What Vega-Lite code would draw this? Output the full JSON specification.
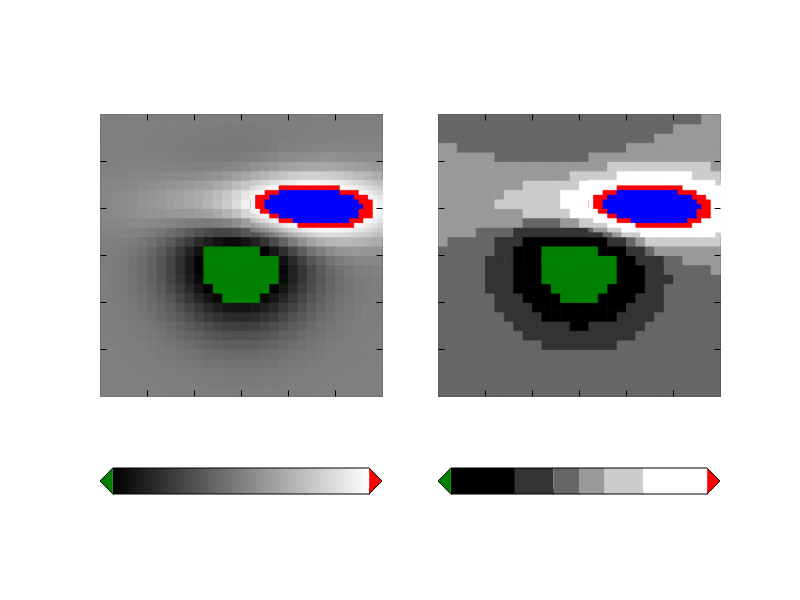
{"$schema":"https://vega.github.io/schema/vega-lite/v6.json","background":"#ffffff","padding":{"left":98,"top":113,"right":0,"bottom":0},"autosize":{"type":"pad"},"spacing":52,
"config":{"view":{"stroke":null},"axis":{"labels":false,"domain":false,"grid":false,"ticks":true,"tickColor":"#000000","tickWidth":1}},
"resolve":{"scale":{"color":"independent","stroke":"independent"}},
"datasets":{
"grid":[
{"x":0,"y":0,"z":-1},{"x":1,"y":0,"z":-1},{"x":2,"y":0,"z":-1},{"x":3,"y":0,"z":-2},{"x":4,"y":0,"z":-3},{"x":5,"y":0,"z":-4},{"x":6,"y":0,"z":-6},{"x":7,"y":0,"z":-8},{"x":8,"y":0,"z":-10},{"x":9,"y":0,"z":-13},{"x":10,"y":0,"z":-16},{"x":11,"y":0,"z":-19},{"x":12,"y":0,"z":-21},{"x":13,"y":0,"z":-23},{"x":14,"y":0,"z":-24},{"x":15,"y":0,"z":-24},{"x":16,"y":0,"z":-23},{"x":17,"y":0,"z":-21},{"x":18,"y":0,"z":-19},{"x":19,"y":0,"z":-16},{"x":20,"y":0,"z":-13},{"x":21,"y":0,"z":-10},{"x":22,"y":0,"z":-8},{"x":23,"y":0,"z":-6},{"x":24,"y":0,"z":-4},{"x":25,"y":0,"z":-3},{"x":26,"y":0,"z":-2},{"x":27,"y":0,"z":-1},{"x":28,"y":0,"z":-1},{"x":29,"y":0,"z":-1},
{"x":0,"y":1,"z":-1},{"x":1,"y":1,"z":-1},{"x":2,"y":1,"z":-2},{"x":3,"y":1,"z":-3},{"x":4,"y":1,"z":-5},{"x":5,"y":1,"z":-7},{"x":6,"y":1,"z":-10},{"x":7,"y":1,"z":-14},{"x":8,"y":1,"z":-18},{"x":9,"y":1,"z":-23},{"x":10,"y":1,"z":-28},{"x":11,"y":1,"z":-33},{"x":12,"y":1,"z":-37},{"x":13,"y":1,"z":-40},{"x":14,"y":1,"z":-41},{"x":15,"y":1,"z":-41},{"x":16,"y":1,"z":-40},{"x":17,"y":1,"z":-37},{"x":18,"y":1,"z":-33},{"x":19,"y":1,"z":-28},{"x":20,"y":1,"z":-23},{"x":21,"y":1,"z":-18},{"x":22,"y":1,"z":-14},{"x":23,"y":1,"z":-10},{"x":24,"y":1,"z":-7},{"x":25,"y":1,"z":-5},{"x":26,"y":1,"z":-3},{"x":27,"y":1,"z":-2},{"x":28,"y":1,"z":-1},{"x":29,"y":1,"z":-1},
{"x":0,"y":2,"z":-1},{"x":1,"y":2,"z":-2},{"x":2,"y":2,"z":-3},{"x":3,"y":2,"z":-5},{"x":4,"y":2,"z":-8},{"x":5,"y":2,"z":-11},{"x":6,"y":2,"z":-16},{"x":7,"y":2,"z":-23},{"x":8,"y":2,"z":-30},{"x":9,"y":2,"z":-38},{"x":10,"y":2,"z":-46},{"x":11,"y":2,"z":-54},{"x":12,"y":2,"z":-61},{"x":13,"y":2,"z":-66},{"x":14,"y":2,"z":-69},{"x":15,"y":2,"z":-69},{"x":16,"y":2,"z":-66},{"x":17,"y":2,"z":-61},{"x":18,"y":2,"z":-54},{"x":19,"y":2,"z":-46},{"x":20,"y":2,"z":-38},{"x":21,"y":2,"z":-30},{"x":22,"y":2,"z":-23},{"x":23,"y":2,"z":-16},{"x":24,"y":2,"z":-11},{"x":25,"y":2,"z":-8},{"x":26,"y":2,"z":-5},{"x":27,"y":2,"z":-3},{"x":28,"y":2,"z":-2},{"x":29,"y":2,"z":-1},
{"x":0,"y":3,"z":-2},{"x":1,"y":3,"z":-3},{"x":2,"y":3,"z":-5},{"x":3,"y":3,"z":-8},{"x":4,"y":3,"z":-13},{"x":5,"y":3,"z":-19},{"x":6,"y":3,"z":-27},{"x":7,"y":3,"z":-37},{"x":8,"y":3,"z":-49},{"x":9,"y":3,"z":-62},{"x":10,"y":3,"z":-76},{"x":11,"y":3,"z":-89},{"x":12,"y":3,"z":-100},{"x":13,"y":3,"z":-109},{"x":14,"y":3,"z":-113},{"x":15,"y":3,"z":-113},{"x":16,"y":3,"z":-109},{"x":17,"y":3,"z":-100},{"x":18,"y":3,"z":-89},{"x":19,"y":3,"z":-76},{"x":20,"y":3,"z":-62},{"x":21,"y":3,"z":-49},{"x":22,"y":3,"z":-37},{"x":23,"y":3,"z":-27},{"x":24,"y":3,"z":-19},{"x":25,"y":3,"z":-13},{"x":26,"y":3,"z":-8},{"x":27,"y":3,"z":-5},{"x":28,"y":3,"z":-3},{"x":29,"y":3,"z":-2},
{"x":0,"y":4,"z":-3},{"x":1,"y":4,"z":-5},{"x":2,"y":4,"z":-8},{"x":3,"y":4,"z":-13},{"x":4,"y":4,"z":-19},{"x":5,"y":4,"z":-29},{"x":6,"y":4,"z":-41},{"x":7,"y":4,"z":-57},{"x":8,"y":4,"z":-75},{"x":9,"y":4,"z":-96},{"x":10,"y":4,"z":-117},{"x":11,"y":4,"z":-137},{"x":12,"y":4,"z":-155},{"x":13,"y":4,"z":-168},{"x":14,"y":4,"z":-174},{"x":15,"y":4,"z":-174},{"x":16,"y":4,"z":-168},{"x":17,"y":4,"z":-155},{"x":18,"y":4,"z":-137},{"x":19,"y":4,"z":-117},{"x":20,"y":4,"z":-96},{"x":21,"y":4,"z":-75},{"x":22,"y":4,"z":-57},{"x":23,"y":4,"z":-41},{"x":24,"y":4,"z":-29},{"x":25,"y":4,"z":-19},{"x":26,"y":4,"z":-13},{"x":27,"y":4,"z":-8},{"x":28,"y":4,"z":-5},{"x":29,"y":4,"z":-3},
{"x":0,"y":5,"z":-4},{"x":1,"y":5,"z":-7},{"x":2,"y":5,"z":-11},{"x":3,"y":5,"z":-19},{"x":4,"y":5,"z":-29},{"x":5,"y":5,"z":-43},{"x":6,"y":5,"z":-62},{"x":7,"y":5,"z":-85},{"x":8,"y":5,"z":-113},{"x":9,"y":5,"z":-143},{"x":10,"y":5,"z":-175},{"x":11,"y":5,"z":-206},{"x":12,"y":5,"z":-232},{"x":13,"y":5,"z":-251},{"x":14,"y":5,"z":-261},{"x":15,"y":5,"z":-261},{"x":16,"y":5,"z":-251},{"x":17,"y":5,"z":-232},{"x":18,"y":5,"z":-206},{"x":19,"y":5,"z":-175},{"x":20,"y":5,"z":-143},{"x":21,"y":5,"z":-113},{"x":22,"y":5,"z":-85},{"x":23,"y":5,"z":-62},{"x":24,"y":5,"z":-43},{"x":25,"y":5,"z":-29},{"x":26,"y":5,"z":-19},{"x":27,"y":5,"z":-11},{"x":28,"y":5,"z":-7},{"x":29,"y":5,"z":-4},
{"x":0,"y":6,"z":-6},{"x":1,"y":6,"z":-10},{"x":2,"y":6,"z":-16},{"x":3,"y":6,"z":-27},{"x":4,"y":6,"z":-41},{"x":5,"y":6,"z":-62},{"x":6,"y":6,"z":-88},{"x":7,"y":6,"z":-122},{"x":8,"y":6,"z":-161},{"x":9,"y":6,"z":-205},{"x":10,"y":6,"z":-250},{"x":11,"y":6,"z":-293},{"x":12,"y":6,"z":-331},{"x":13,"y":6,"z":-358},{"x":14,"y":6,"z":-373},{"x":15,"y":6,"z":-373},{"x":16,"y":6,"z":-358},{"x":17,"y":6,"z":-331},{"x":18,"y":6,"z":-293},{"x":19,"y":6,"z":-250},{"x":20,"y":6,"z":-205},{"x":21,"y":6,"z":-161},{"x":22,"y":6,"z":-122},{"x":23,"y":6,"z":-88},{"x":24,"y":6,"z":-62},{"x":25,"y":6,"z":-41},{"x":26,"y":6,"z":-27},{"x":27,"y":6,"z":-16},{"x":28,"y":6,"z":-10},{"x":29,"y":6,"z":-6},
{"x":0,"y":7,"z":-8},{"x":1,"y":7,"z":-14},{"x":2,"y":7,"z":-23},{"x":3,"y":7,"z":-37},{"x":4,"y":7,"z":-57},{"x":5,"y":7,"z":-85},{"x":6,"y":7,"z":-122},{"x":7,"y":7,"z":-168},{"x":8,"y":7,"z":-222},{"x":9,"y":7,"z":-283},{"x":10,"y":7,"z":-345},{"x":11,"y":7,"z":-405},{"x":12,"y":7,"z":-456},{"x":13,"y":7,"z":-495},{"x":14,"y":7,"z":-515},{"x":15,"y":7,"z":-515},{"x":16,"y":7,"z":-495},{"x":17,"y":7,"z":-456},{"x":18,"y":7,"z":-405},{"x":19,"y":7,"z":-345},{"x":20,"y":7,"z":-283},{"x":21,"y":7,"z":-222},{"x":22,"y":7,"z":-168},{"x":23,"y":7,"z":-122},{"x":24,"y":7,"z":-85},{"x":25,"y":7,"z":-57},{"x":26,"y":7,"z":-37},{"x":27,"y":7,"z":-23},{"x":28,"y":7,"z":-14},{"x":29,"y":7,"z":-8},
{"x":0,"y":8,"z":-10},{"x":1,"y":8,"z":-18},{"x":2,"y":8,"z":-30},{"x":3,"y":8,"z":-49},{"x":4,"y":8,"z":-75},{"x":5,"y":8,"z":-113},{"x":6,"y":8,"z":-161},{"x":7,"y":8,"z":-222},{"x":8,"y":8,"z":-294},{"x":9,"y":8,"z":-373},{"x":10,"y":8,"z":-456},{"x":11,"y":8,"z":-535},{"x":12,"y":8,"z":-603},{"x":13,"y":8,"z":-654},{"x":14,"y":8,"z":-680},{"x":15,"y":8,"z":-680},{"x":16,"y":8,"z":-654},{"x":17,"y":8,"z":-603},{"x":18,"y":8,"z":-535},{"x":19,"y":8,"z":-456},{"x":20,"y":8,"z":-373},{"x":21,"y":8,"z":-294},{"x":22,"y":8,"z":-222},{"x":23,"y":8,"z":-161},{"x":24,"y":8,"z":-113},{"x":25,"y":8,"z":-75},{"x":26,"y":8,"z":-49},{"x":27,"y":8,"z":-30},{"x":28,"y":8,"z":-18},{"x":29,"y":8,"z":-10},
{"x":0,"y":9,"z":-13},{"x":1,"y":9,"z":-23},{"x":2,"y":9,"z":-38},{"x":3,"y":9,"z":-62},{"x":4,"y":9,"z":-96},{"x":5,"y":9,"z":-143},{"x":6,"y":9,"z":-205},{"x":7,"y":9,"z":-282},{"x":8,"y":9,"z":-373},{"x":9,"y":9,"z":-475},{"x":10,"y":9,"z":-580},{"x":11,"y":9,"z":-680},{"x":12,"y":9,"z":-767},{"x":13,"y":9,"z":-831},{"x":14,"y":9,"z":-865},{"x":15,"y":9,"z":-865},{"x":16,"y":9,"z":-831},{"x":17,"y":9,"z":-767},{"x":18,"y":9,"z":-680},{"x":19,"y":9,"z":-580},{"x":20,"y":9,"z":-474},{"x":21,"y":9,"z":-373},{"x":22,"y":9,"z":-282},{"x":23,"y":9,"z":-204},{"x":24,"y":9,"z":-143},{"x":25,"y":9,"z":-96},{"x":26,"y":9,"z":-62},{"x":27,"y":9,"z":-38},{"x":28,"y":9,"z":-23},{"x":29,"y":9,"z":-13},
{"x":0,"y":10,"z":-16},{"x":1,"y":10,"z":-28},{"x":2,"y":10,"z":-46},{"x":3,"y":10,"z":-76},{"x":4,"y":10,"z":-117},{"x":5,"y":10,"z":-175},{"x":6,"y":10,"z":-250},{"x":7,"y":10,"z":-345},{"x":8,"y":10,"z":-456},{"x":9,"y":10,"z":-580},{"x":10,"y":10,"z":-708},{"x":11,"y":10,"z":-831},{"x":12,"y":10,"z":-936},{"x":13,"y":10,"z":-1014},{"x":14,"y":10,"z":-1056},{"x":15,"y":10,"z":-1055},{"x":16,"y":10,"z":-1014},{"x":17,"y":10,"z":-936},{"x":18,"y":10,"z":-830},{"x":19,"y":10,"z":-707},{"x":20,"y":10,"z":-579},{"x":21,"y":10,"z":-455},{"x":22,"y":10,"z":-344},{"x":23,"y":10,"z":-249},{"x":24,"y":10,"z":-174},{"x":25,"y":10,"z":-116},{"x":26,"y":10,"z":-75},{"x":27,"y":10,"z":-45},{"x":28,"y":10,"z":-27},{"x":29,"y":10,"z":-15},
{"x":0,"y":11,"z":-19},{"x":1,"y":11,"z":-32},{"x":2,"y":11,"z":-54},{"x":3,"y":11,"z":-88},{"x":4,"y":11,"z":-137},{"x":5,"y":11,"z":-204},{"x":6,"y":11,"z":-292},{"x":7,"y":11,"z":-403},{"x":8,"y":11,"z":-533},{"x":9,"y":11,"z":-678},{"x":10,"y":11,"z":-829},{"x":11,"y":11,"z":-973},{"x":12,"y":11,"z":-1096},{"x":13,"y":11,"z":-1187},{"x":14,"y":11,"z":-1235},{"x":15,"y":11,"z":-1235},{"x":16,"y":11,"z":-1186},{"x":17,"y":11,"z":-1093},{"x":18,"y":11,"z":-970},{"x":19,"y":11,"z":-825},{"x":20,"y":11,"z":-674},{"x":21,"y":11,"z":-529},{"x":22,"y":11,"z":-399},{"x":23,"y":11,"z":-288},{"x":24,"y":11,"z":-200},{"x":25,"y":11,"z":-132},{"x":26,"y":11,"z":-84},{"x":27,"y":11,"z":-50},{"x":28,"y":11,"z":-29},{"x":29,"y":11,"z":-16},
{"x":0,"y":12,"z":-20},{"x":1,"y":12,"z":-36},{"x":2,"y":12,"z":-60},{"x":3,"y":12,"z":-98},{"x":4,"y":12,"z":-152},{"x":5,"y":12,"z":-228},{"x":6,"y":12,"z":-326},{"x":7,"y":12,"z":-450},{"x":8,"y":12,"z":-596},{"x":9,"y":12,"z":-758},{"x":10,"y":12,"z":-927},{"x":11,"y":12,"z":-1087},{"x":12,"y":12,"z":-1225},{"x":13,"y":12,"z":-1326},{"x":14,"y":12,"z":-1379},{"x":15,"y":12,"z":-1377},{"x":16,"y":12,"z":-1321},{"x":17,"y":12,"z":-1216},{"x":18,"y":12,"z":-1077},{"x":19,"y":12,"z":-914},{"x":20,"y":12,"z":-743},{"x":21,"y":12,"z":-580},{"x":22,"y":12,"z":-434},{"x":23,"y":12,"z":-309},{"x":24,"y":12,"z":-212},{"x":25,"y":12,"z":-137},{"x":26,"y":12,"z":-84},{"x":27,"y":12,"z":-47},{"x":28,"y":12,"z":-24},{"x":29,"y":12,"z":-11},
{"x":0,"y":13,"z":-20},{"x":1,"y":13,"z":-36},{"x":2,"y":13,"z":-62},{"x":3,"y":13,"z":-102},{"x":4,"y":13,"z":-159},{"x":5,"y":13,"z":-240},{"x":6,"y":13,"z":-344},{"x":7,"y":13,"z":-477},{"x":8,"y":13,"z":-631},{"x":9,"y":13,"z":-804},{"x":10,"y":13,"z":-983},{"x":11,"y":13,"z":-1154},{"x":12,"y":13,"z":-1299},{"x":13,"y":13,"z":-1405},{"x":14,"y":13,"z":-1458},{"x":15,"y":13,"z":-1453},{"x":16,"y":13,"z":-1390},{"x":17,"y":13,"z":-1274},{"x":18,"y":13,"z":-1121},{"x":19,"y":13,"z":-944},{"x":20,"y":13,"z":-759},{"x":21,"y":13,"z":-583},{"x":22,"y":13,"z":-426},{"x":23,"y":13,"z":-294},{"x":24,"y":13,"z":-191},{"x":25,"y":13,"z":-112},{"x":26,"y":13,"z":-59},{"x":27,"y":13,"z":-23},{"x":28,"y":13,"z":-2},{"x":29,"y":13,"z":9},
{"x":0,"y":14,"z":-17},{"x":1,"y":14,"z":-32},{"x":2,"y":14,"z":-57},{"x":3,"y":14,"z":-96},{"x":4,"y":14,"z":-152},{"x":5,"y":14,"z":-232},{"x":6,"y":14,"z":-335},{"x":7,"y":14,"z":-468},{"x":8,"y":14,"z":-622},{"x":9,"y":14,"z":-794},{"x":10,"y":14,"z":-972},{"x":11,"y":14,"z":-1141},{"x":12,"y":14,"z":-1282},{"x":13,"y":14,"z":-1384},{"x":14,"y":14,"z":-1431},{"x":15,"y":14,"z":-1417},{"x":16,"y":14,"z":-1344},{"x":17,"y":14,"z":-1218},{"x":18,"y":14,"z":-1055},{"x":19,"y":14,"z":-869},{"x":20,"y":14,"z":-677},{"x":21,"y":14,"z":-495},{"x":22,"y":14,"z":-336},{"x":23,"y":14,"z":-204},{"x":24,"y":14,"z":-103},{"x":25,"y":14,"z":-30},{"x":26,"y":14,"z":17},{"x":27,"y":14,"z":45},{"x":28,"y":14,"z":58},{"x":29,"y":14,"z":61},
{"x":0,"y":15,"z":-10},{"x":1,"y":15,"z":-21},{"x":2,"y":15,"z":-41},{"x":3,"y":15,"z":-76},{"x":4,"y":15,"z":-125},{"x":5,"y":15,"z":-196},{"x":6,"y":15,"z":-290},{"x":7,"y":15,"z":-410},{"x":8,"y":15,"z":-551},{"x":9,"y":15,"z":-707},{"x":10,"y":15,"z":-869},{"x":11,"y":15,"z":-1019},{"x":12,"y":15,"z":-1142},{"x":13,"y":15,"z":-1225},{"x":14,"y":15,"z":-1254},{"x":15,"y":15,"z":-1224},{"x":16,"y":15,"z":-1137},{"x":17,"y":15,"z":-999},{"x":18,"y":15,"z":-828},{"x":19,"y":15,"z":-638},{"x":20,"y":15,"z":-446},{"x":21,"y":15,"z":-269},{"x":22,"y":15,"z":-117},{"x":23,"y":15,"z":4},{"x":24,"y":15,"z":90},{"x":25,"y":15,"z":147},{"x":26,"y":15,"z":176},{"x":27,"y":15,"z":186},{"x":28,"y":15,"z":180},{"x":29,"y":15,"z":164},
{"x":0,"y":16,"z":4},{"x":1,"y":16,"z":-2},{"x":2,"y":16,"z":-14},{"x":3,"y":16,"z":-38},{"x":4,"y":16,"z":-73},{"x":5,"y":16,"z":-128},{"x":6,"y":16,"z":-201},{"x":7,"y":16,"z":-296},{"x":8,"y":16,"z":-408},{"x":9,"y":16,"z":-532},{"x":10,"y":16,"z":-659},{"x":11,"y":16,"z":-772},{"x":12,"y":16,"z":-859},{"x":13,"y":16,"z":-907},{"x":14,"y":16,"z":-905},{"x":15,"y":16,"z":-848},{"x":16,"y":16,"z":-740},{"x":17,"y":16,"z":-589},{"x":18,"y":16,"z":-411},{"x":19,"y":16,"z":-221},{"x":20,"y":16,"z":-36},{"x":21,"y":16,"z":127},{"x":22,"y":16,"z":259},{"x":23,"y":16,"z":356},{"x":24,"y":16,"z":415},{"x":25,"y":16,"z":441},{"x":26,"y":16,"z":439},{"x":27,"y":16,"z":417},{"x":28,"y":16,"z":379},{"x":29,"y":16,"z":334},
{"x":0,"y":17,"z":23},{"x":1,"y":17,"z":25},{"x":2,"y":17,"z":24},{"x":3,"y":17,"z":14},{"x":4,"y":17,"z":-3},{"x":5,"y":17,"z":-33},{"x":6,"y":17,"z":-76},{"x":7,"y":17,"z":-136},{"x":8,"y":17,"z":-206},{"x":9,"y":17,"z":-284},{"x":10,"y":17,"z":-360},{"x":11,"y":17,"z":-422},{"x":12,"y":17,"z":-458},{"x":13,"y":17,"z":-458},{"x":14,"y":17,"z":-413},{"x":15,"y":17,"z":-322},{"x":16,"y":17,"z":-188},{"x":17,"y":17,"z":-21},{"x":18,"y":17,"z":162},{"x":19,"y":17,"z":347},{"x":20,"y":17,"z":517},{"x":21,"y":17,"z":658},{"x":22,"y":17,"z":762},{"x":23,"y":17,"z":824},{"x":24,"y":17,"z":844},{"x":25,"y":17,"z":829},{"x":26,"y":17,"z":784},{"x":27,"y":17,"z":719},{"x":28,"y":17,"z":641},{"x":29,"y":17,"z":556},
{"x":0,"y":18,"z":41},{"x":1,"y":18,"z":52},{"x":2,"y":18,"z":63},{"x":3,"y":18,"z":69},{"x":4,"y":18,"z":72},{"x":5,"y":18,"z":68},{"x":6,"y":18,"z":57},{"x":7,"y":18,"z":37},{"x":8,"y":18,"z":12},{"x":9,"y":18,"z":-16},{"x":10,"y":18,"z":-37},{"x":11,"y":18,"z":-43},{"x":12,"y":18,"z":-25},{"x":13,"y":18,"z":26},{"x":14,"y":18,"z":115},{"x":15,"y":18,"z":241},{"x":16,"y":18,"z":398},{"x":17,"y":18,"z":578},{"x":18,"y":18,"z":761},{"x":19,"y":18,"z":936},{"x":20,"y":18,"z":1088},{"x":21,"y":18,"z":1202},{"x":22,"y":18,"z":1272},{"x":23,"y":18,"z":1296},{"x":24,"y":18,"z":1276},{"x":25,"y":18,"z":1218},{"x":26,"y":18,"z":1129},{"x":27,"y":18,"z":1021},{"x":28,"y":18,"z":900},{"x":29,"y":18,"z":776},
{"x":0,"y":19,"z":55},{"x":1,"y":19,"z":71},{"x":2,"y":19,"z":91},{"x":3,"y":19,"z":110},{"x":4,"y":19,"z":129},{"x":5,"y":19,"z":145},{"x":6,"y":19,"z":162},{"x":7,"y":19,"z":173},{"x":8,"y":19,"z":186},{"x":9,"y":19,"z":200},{"x":10,"y":19,"z":223},{"x":11,"y":19,"z":263},{"x":12,"y":19,"z":324},{"x":13,"y":19,"z":414},{"x":14,"y":19,"z":533},{"x":15,"y":19,"z":681},{"x":16,"y":19,"z":850},{"x":17,"y":19,"z":1031},{"x":18,"y":19,"z":1207},{"x":19,"y":19,"z":1366},{"x":20,"y":19,"z":1495},{"x":21,"y":19,"z":1582},{"x":22,"y":19,"z":1623},{"x":23,"y":19,"z":1615},{"x":24,"y":19,"z":1563},{"x":25,"y":19,"z":1473},{"x":26,"y":19,"z":1353},{"x":27,"y":19,"z":1215},{"x":28,"y":19,"z":1067},{"x":29,"y":19,"z":916},
{"x":0,"y":20,"z":58},{"x":1,"y":20,"z":76},{"x":2,"y":20,"z":99},{"x":3,"y":20,"z":123},{"x":4,"y":20,"z":150},{"x":5,"y":20,"z":177},{"x":6,"y":20,"z":207},{"x":7,"y":20,"z":236},{"x":8,"y":20,"z":269},{"x":9,"y":20,"z":306},{"x":10,"y":20,"z":352},{"x":11,"y":20,"z":414},{"x":12,"y":20,"z":495},{"x":13,"y":20,"z":598},{"x":14,"y":20,"z":725},{"x":15,"y":20,"z":873},{"x":16,"y":20,"z":1034},{"x":17,"y":20,"z":1201},{"x":18,"y":20,"z":1358},{"x":19,"y":20,"z":1495},{"x":20,"y":20,"z":1600},{"x":21,"y":20,"z":1665},{"x":22,"y":20,"z":1686},{"x":23,"y":20,"z":1661},{"x":24,"y":20,"z":1595},{"x":25,"y":20,"z":1494},{"x":26,"y":20,"z":1367},{"x":27,"y":20,"z":1224},{"x":28,"y":20,"z":1072},{"x":29,"y":20,"z":919},
{"x":0,"y":21,"z":50},{"x":1,"y":21,"z":67},{"x":2,"y":21,"z":87},{"x":3,"y":21,"z":109},{"x":4,"y":21,"z":134},{"x":5,"y":21,"z":160},{"x":6,"y":21,"z":190},{"x":7,"y":21,"z":220},{"x":8,"y":21,"z":253},{"x":9,"y":21,"z":292},{"x":10,"y":21,"z":338},{"x":11,"y":21,"z":398},{"x":12,"y":21,"z":472},{"x":13,"y":21,"z":564},{"x":14,"y":21,"z":675},{"x":15,"y":21,"z":801},{"x":16,"y":21,"z":936},{"x":17,"y":21,"z":1074},{"x":18,"y":21,"z":1202},{"x":19,"y":21,"z":1312},{"x":20,"y":21,"z":1395},{"x":21,"y":21,"z":1444},{"x":22,"y":21,"z":1455},{"x":23,"y":21,"z":1429},{"x":24,"y":21,"z":1368},{"x":25,"y":21,"z":1280},{"x":26,"y":21,"z":1169},{"x":27,"y":21,"z":1045},{"x":28,"y":21,"z":915},{"x":29,"y":21,"z":784},
{"x":0,"y":22,"z":36},{"x":1,"y":22,"z":48},{"x":2,"y":22,"z":62},{"x":3,"y":22,"z":78},{"x":4,"y":22,"z":95},{"x":5,"y":22,"z":113},{"x":6,"y":22,"z":133},{"x":7,"y":22,"z":153},{"x":8,"y":22,"z":175},{"x":9,"y":22,"z":200},{"x":10,"y":22,"z":232},{"x":11,"y":22,"z":272},{"x":12,"y":22,"z":324},{"x":13,"y":22,"z":390},{"x":14,"y":22,"z":469},{"x":15,"y":22,"z":561},{"x":16,"y":22,"z":660},{"x":17,"y":22,"z":762},{"x":18,"y":22,"z":856},{"x":19,"y":22,"z":939},{"x":20,"y":22,"z":1001},{"x":21,"y":22,"z":1039},{"x":22,"y":22,"z":1050},{"x":23,"y":22,"z":1032},{"x":24,"y":22,"z":990},{"x":25,"y":22,"z":927},{"x":26,"y":22,"z":847},{"x":27,"y":22,"z":758},{"x":28,"y":22,"z":664},{"x":29,"y":22,"z":569},
{"x":0,"y":23,"z":21},{"x":1,"y":23,"z":28},{"x":2,"y":23,"z":36},{"x":3,"y":23,"z":44},{"x":4,"y":23,"z":53},{"x":5,"y":23,"z":61},{"x":6,"y":23,"z":69},{"x":7,"y":23,"z":77},{"x":8,"y":23,"z":85},{"x":9,"y":23,"z":94},{"x":10,"y":23,"z":107},{"x":11,"y":23,"z":126},{"x":12,"y":23,"z":152},{"x":13,"y":23,"z":189},{"x":14,"y":23,"z":236},{"x":15,"y":23,"z":293},{"x":16,"y":23,"z":356},{"x":17,"y":23,"z":423},{"x":18,"y":23,"z":487},{"x":19,"y":23,"z":544},{"x":20,"y":23,"z":590},{"x":21,"y":23,"z":620},{"x":22,"y":23,"z":632},{"x":23,"y":23,"z":626},{"x":24,"y":23,"z":604},{"x":25,"y":23,"z":567},{"x":26,"y":23,"z":521},{"x":27,"y":23,"z":467},{"x":28,"y":23,"z":409},{"x":29,"y":23,"z":351},
{"x":0,"y":24,"z":10},{"x":1,"y":24,"z":13},{"x":2,"y":24,"z":16},{"x":3,"y":24,"z":19},{"x":4,"y":24,"z":21},{"x":5,"y":24,"z":21},{"x":6,"y":24,"z":21},{"x":7,"y":24,"z":19},{"x":8,"y":24,"z":17},{"x":9,"y":24,"z":14},{"x":10,"y":24,"z":13},{"x":11,"y":24,"z":16},{"x":12,"y":24,"z":23},{"x":13,"y":24,"z":38},{"x":14,"y":24,"z":60},{"x":15,"y":24,"z":90},{"x":16,"y":24,"z":126},{"x":17,"y":24,"z":166},{"x":18,"y":24,"z":206},{"x":19,"y":24,"z":244},{"x":20,"y":24,"z":276},{"x":21,"y":24,"z":299},{"x":22,"y":24,"z":312},{"x":23,"y":24,"z":315},{"x":24,"y":24,"z":308},{"x":25,"y":24,"z":292},{"x":26,"y":24,"z":270},{"x":27,"y":24,"z":243},{"x":28,"y":24,"z":214},{"x":29,"y":24,"z":184},
{"x":0,"y":25,"z":4},{"x":1,"y":25,"z":4},{"x":2,"y":25,"z":5},{"x":3,"y":25,"z":4},{"x":4,"y":25,"z":3},{"x":5,"y":25,"z":1},{"x":6,"y":25,"z":-4},{"x":7,"y":25,"z":-10},{"x":8,"y":25,"z":-17},{"x":9,"y":25,"z":-25},{"x":10,"y":25,"z":-33},{"x":11,"y":25,"z":-38},{"x":12,"y":25,"z":-40},{"x":13,"y":25,"z":-38},{"x":14,"y":25,"z":-30},{"x":15,"y":25,"z":-17},{"x":16,"y":25,"z":2},{"x":17,"y":25,"z":24},{"x":18,"y":25,"z":48},{"x":19,"y":25,"z":71},{"x":20,"y":25,"z":92},{"x":21,"y":25,"z":110},{"x":22,"y":25,"z":122},{"x":23,"y":25,"z":128},{"x":24,"y":25,"z":129},{"x":25,"y":25,"z":125},{"x":26,"y":25,"z":117},{"x":27,"y":25,"z":107},{"x":28,"y":25,"z":95},{"x":29,"y":25,"z":82},
{"x":0,"y":26,"z":1},{"x":1,"y":26,"z":1},{"x":2,"y":26,"z":-1},{"x":3,"y":26,"z":-2},{"x":4,"y":26,"z":-4},{"x":5,"y":26,"z":-8},{"x":6,"y":26,"z":-12},{"x":7,"y":26,"z":-19},{"x":8,"y":26,"z":-27},{"x":9,"y":26,"z":-35},{"x":10,"y":26,"z":-43},{"x":11,"y":26,"z":-51},{"x":12,"y":26,"z":-56},{"x":13,"y":26,"z":-59},{"x":14,"y":26,"z":-58},{"x":15,"y":26,"z":-53},{"x":16,"y":26,"z":-44},{"x":17,"y":26,"z":-32},{"x":18,"y":26,"z":-18},{"x":19,"y":26,"z":-4},{"x":20,"y":26,"z":10},{"x":21,"y":26,"z":22},{"x":22,"y":26,"z":31},{"x":23,"y":26,"z":38},{"x":24,"y":26,"z":42},{"x":25,"y":26,"z":43},{"x":26,"y":26,"z":41},{"x":27,"y":26,"z":39},{"x":28,"y":26,"z":35},{"x":29,"y":26,"z":31},
{"x":0,"y":27,"z":-1},{"x":1,"y":27,"z":-1},{"x":2,"y":27,"z":-1},{"x":3,"y":27,"z":-3},{"x":4,"y":27,"z":-5},{"x":5,"y":27,"z":-8},{"x":6,"y":27,"z":-12},{"x":7,"y":27,"z":-17},{"x":8,"y":27,"z":-23},{"x":9,"y":27,"z":-29},{"x":10,"y":27,"z":-36},{"x":11,"y":27,"z":-42},{"x":12,"y":27,"z":-47},{"x":13,"y":27,"z":-50},{"x":14,"y":27,"z":-51},{"x":15,"y":27,"z":-49},{"x":16,"y":27,"z":-45},{"x":17,"y":27,"z":-39},{"x":18,"y":27,"z":-31},{"x":19,"y":27,"z":-23},{"x":20,"y":27,"z":-14},{"x":21,"y":27,"z":-7},{"x":22,"y":27,"z":-1},{"x":23,"y":27,"z":5},{"x":24,"y":27,"z":8},{"x":25,"y":27,"z":10},{"x":26,"y":27,"z":11},{"x":27,"y":27,"z":11},{"x":28,"y":27,"z":11},{"x":29,"y":27,"z":10},
{"x":0,"y":28,"z":-1},{"x":1,"y":28,"z":-1},{"x":2,"y":28,"z":-1},{"x":3,"y":28,"z":-2},{"x":4,"y":28,"z":-4},{"x":5,"y":28,"z":-6},{"x":6,"y":28,"z":-8},{"x":7,"y":28,"z":-12},{"x":8,"y":28,"z":-16},{"x":9,"y":28,"z":-20},{"x":10,"y":28,"z":-25},{"x":11,"y":28,"z":-29},{"x":12,"y":28,"z":-33},{"x":13,"y":28,"z":-35},{"x":14,"y":28,"z":-36},{"x":15,"y":28,"z":-36},{"x":16,"y":28,"z":-34},{"x":17,"y":28,"z":-31},{"x":18,"y":28,"z":-26},{"x":19,"y":28,"z":-21},{"x":20,"y":28,"z":-16},{"x":21,"y":28,"z":-11},{"x":22,"y":28,"z":-7},{"x":23,"y":28,"z":-4},{"x":24,"y":28,"z":-1},{"x":25,"y":28,"z":1},{"x":26,"y":28,"z":2},{"x":27,"y":28,"z":2},{"x":28,"y":28,"z":2},{"x":29,"y":28,"z":2},
{"x":0,"y":29,"z":-1},{"x":1,"y":29,"z":-1},{"x":2,"y":29,"z":-1},{"x":3,"y":29,"z":-2},{"x":4,"y":29,"z":-2},{"x":5,"y":29,"z":-4},{"x":6,"y":29,"z":-5},{"x":7,"y":29,"z":-7},{"x":8,"y":29,"z":-10},{"x":9,"y":29,"z":-13},{"x":10,"y":29,"z":-15},{"x":11,"y":29,"z":-18},{"x":12,"y":29,"z":-20},{"x":13,"y":29,"z":-22},{"x":14,"y":29,"z":-23},{"x":15,"y":29,"z":-22},{"x":16,"y":29,"z":-21},{"x":17,"y":29,"z":-20},{"x":18,"y":29,"z":-17},{"x":19,"y":29,"z":-14},{"x":20,"y":29,"z":-12},{"x":21,"y":29,"z":-9},{"x":22,"y":29,"z":-6},{"x":23,"y":29,"z":-4},{"x":24,"y":29,"z":-3},{"x":25,"y":29,"z":-1},{"x":26,"y":29,"z":-1},{"x":27,"y":29,"z":-1},{"x":28,"y":29,"z":1},{"x":29,"y":29,"z":1}
],
"fine":[
{"x":16,"y":17,"z":-371},{"x":16.5,"y":17,"z":-298},{"x":17,"y":17,"z":-216},{"x":17.5,"y":17,"z":-129},{"x":18,"y":17,"z":-37},{"x":18.5,"y":17,"z":57},{"x":19,"y":17,"z":151},{"x":19.5,"y":17,"z":242},{"x":20,"y":17,"z":329},{"x":20.5,"y":17,"z":411},{"x":21,"y":17,"z":484},{"x":21.5,"y":17,"z":549},{"x":22,"y":17,"z":605},{"x":22.5,"y":17,"z":651},{"x":23,"y":17,"z":686},{"x":23.5,"y":17,"z":712},{"x":24,"y":17,"z":727},{"x":24.5,"y":17,"z":733},{"x":25,"y":17,"z":731},{"x":25.5,"y":17,"z":721},{"x":26,"y":17,"z":705},{"x":26.5,"y":17,"z":682},{"x":27,"y":17,"z":655},{"x":27.5,"y":17,"z":624},{"x":28,"y":17,"z":590},{"x":28.5,"y":17,"z":554},{"x":29,"y":17,"z":517},{"x":29.5,"y":17,"z":479},
{"x":16,"y":17.5,"z":-77},{"x":16.5,"y":17.5,"z":2},{"x":17,"y":17.5,"z":87},{"x":17.5,"y":17.5,"z":177},{"x":18,"y":17.5,"z":270},{"x":18.5,"y":17.5,"z":363},{"x":19,"y":17.5,"z":455},{"x":19.5,"y":17.5,"z":543},{"x":20,"y":17.5,"z":626},{"x":20.5,"y":17.5,"z":702},{"x":21,"y":17.5,"z":770},{"x":21.5,"y":17.5,"z":827},{"x":22,"y":17.5,"z":875},{"x":22.5,"y":17.5,"z":912},{"x":23,"y":17.5,"z":938},{"x":23.5,"y":17.5,"z":953},{"x":24,"y":17.5,"z":958},{"x":24.5,"y":17.5,"z":954},{"x":25,"y":17.5,"z":941},{"x":25.5,"y":17.5,"z":919},{"x":26,"y":17.5,"z":891},{"x":26.5,"y":17.5,"z":858},{"x":27,"y":17.5,"z":819},{"x":27.5,"y":17.5,"z":777},{"x":28,"y":17.5,"z":732},{"x":28.5,"y":17.5,"z":685},{"x":29,"y":17.5,"z":638},{"x":29.5,"y":17.5,"z":590},
{"x":16,"y":18,"z":217},{"x":16.5,"y":18,"z":300},{"x":17,"y":18,"z":389},{"x":17.5,"y":18,"z":480},{"x":18,"y":18,"z":573},{"x":18.5,"y":18,"z":665},{"x":19,"y":18,"z":755},{"x":19.5,"y":18,"z":840},{"x":20,"y":18,"z":918},{"x":20.5,"y":18,"z":988},{"x":21,"y":18,"z":1048},{"x":21.5,"y":18,"z":1098},{"x":22,"y":18,"z":1138},{"x":22.5,"y":18,"z":1165},{"x":23,"y":18,"z":1182},{"x":23.5,"y":18,"z":1187},{"x":24,"y":18,"z":1182},{"x":24.5,"y":18,"z":1167},{"x":25,"y":18,"z":1143},{"x":25.5,"y":18,"z":1110},{"x":26,"y":18,"z":1071},{"x":26.5,"y":18,"z":1026},{"x":27,"y":18,"z":977},{"x":27.5,"y":18,"z":924},{"x":28,"y":18,"z":869},{"x":28.5,"y":18,"z":812},{"x":29,"y":18,"z":754},{"x":29.5,"y":18,"z":697},
{"x":16,"y":18.5,"z":488},{"x":16.5,"y":18.5,"z":575},{"x":17,"y":18.5,"z":665},{"x":17.5,"y":18.5,"z":758},{"x":18,"y":18.5,"z":850},{"x":18.5,"y":18.5,"z":940},{"x":19,"y":18.5,"z":1026},{"x":19.5,"y":18.5,"z":1107},{"x":20,"y":18.5,"z":1179},{"x":20.5,"y":18.5,"z":1243},{"x":21,"y":18.5,"z":1297},{"x":21.5,"y":18.5,"z":1339},{"x":22,"y":18.5,"z":1370},{"x":22.5,"y":18.5,"z":1390},{"x":23,"y":18.5,"z":1397},{"x":23.5,"y":18.5,"z":1393},{"x":24,"y":18.5,"z":1378},{"x":24.5,"y":18.5,"z":1353},{"x":25,"y":18.5,"z":1319},{"x":25.5,"y":18.5,"z":1277},{"x":26,"y":18.5,"z":1228},{"x":26.5,"y":18.5,"z":1173},{"x":27,"y":18.5,"z":1114},{"x":27.5,"y":18.5,"z":1052},{"x":28,"y":18.5,"z":987},{"x":28.5,"y":18.5,"z":921},{"x":29,"y":18.5,"z":855},{"x":29.5,"y":18.5,"z":789},
{"x":16,"y":19,"z":715},{"x":16.5,"y":19,"z":804},{"x":17,"y":19,"z":895},{"x":17.5,"y":19,"z":986},{"x":18,"y":19,"z":1076},{"x":18.5,"y":19,"z":1164},{"x":19,"y":19,"z":1246},{"x":19.5,"y":19,"z":1321},{"x":20,"y":19,"z":1389},{"x":20.5,"y":19,"z":1446},{"x":21,"y":19,"z":1493},{"x":21.5,"y":19,"z":1528},{"x":22,"y":19,"z":1552},{"x":22.5,"y":19,"z":1563},{"x":23,"y":19,"z":1563},{"x":23.5,"y":19,"z":1551},{"x":24,"y":19,"z":1528},{"x":24.5,"y":19,"z":1494},{"x":25,"y":19,"z":1452},{"x":25.5,"y":19,"z":1402},{"x":26,"y":19,"z":1345},{"x":26.5,"y":19,"z":1283},{"x":27,"y":19,"z":1217},{"x":27.5,"y":19,"z":1147},{"x":28,"y":19,"z":1075},{"x":28.5,"y":19,"z":1002},{"x":29,"y":19,"z":929},{"x":29.5,"y":19,"z":857},
{"x":16,"y":19.5,"z":881},{"x":16.5,"y":19.5,"z":969},{"x":17,"y":19.5,"z":1058},{"x":17.5,"y":19.5,"z":1147},{"x":18,"y":19.5,"z":1234},{"x":18.5,"y":19.5,"z":1317},{"x":19,"y":19.5,"z":1395},{"x":19.5,"y":19.5,"z":1465},{"x":20,"y":19.5,"z":1526},{"x":20.5,"y":19.5,"z":1578},{"x":21,"y":19.5,"z":1618},{"x":21.5,"y":19.5,"z":1647},{"x":22,"y":19.5,"z":1664},{"x":22.5,"y":19.5,"z":1669},{"x":23,"y":19.5,"z":1663},{"x":23.5,"y":19.5,"z":1644},{"x":24,"y":19.5,"z":1615},{"x":24.5,"y":19.5,"z":1576},{"x":25,"y":19.5,"z":1529},{"x":25.5,"y":19.5,"z":1473},{"x":26,"y":19.5,"z":1412},{"x":26.5,"y":19.5,"z":1344},{"x":27,"y":19.5,"z":1273},{"x":27.5,"y":19.5,"z":1199},{"x":28,"y":19.5,"z":1123},{"x":28.5,"y":19.5,"z":1046},{"x":29,"y":19.5,"z":970},{"x":29.5,"y":19.5,"z":894},
{"x":16,"y":20,"z":974},{"x":16.5,"y":20,"z":1060},{"x":17,"y":20,"z":1145},{"x":17.5,"y":20,"z":1230},{"x":18,"y":20,"z":1312},{"x":18.5,"y":20,"z":1390},{"x":19,"y":20,"z":1462},{"x":19.5,"y":20,"z":1526},{"x":20,"y":20,"z":1582},{"x":20.5,"y":20,"z":1628},{"x":21,"y":20,"z":1662},{"x":21.5,"y":20,"z":1686},{"x":22,"y":20,"z":1698},{"x":22.5,"y":20,"z":1698},{"x":23,"y":20,"z":1687},{"x":23.5,"y":20,"z":1665},{"x":24,"y":20,"z":1633},{"x":24.5,"y":20,"z":1591},{"x":25,"y":20,"z":1541},{"x":25.5,"y":20,"z":1483},{"x":26,"y":20,"z":1419},{"x":26.5,"y":20,"z":1350},{"x":27,"y":20,"z":1278},{"x":27.5,"y":20,"z":1203},{"x":28,"y":20,"z":1126},{"x":28.5,"y":20,"z":1048},{"x":29,"y":20,"z":971},{"x":29.5,"y":20,"z":895},
{"x":16,"y":20.5,"z":994},{"x":16.5,"y":20.5,"z":1074},{"x":17,"y":20.5,"z":1155},{"x":17.5,"y":20.5,"z":1233},{"x":18,"y":20.5,"z":1309},{"x":18.5,"y":20.5,"z":1381},{"x":19,"y":20.5,"z":1446},{"x":19.5,"y":20.5,"z":1504},{"x":20,"y":20.5,"z":1554},{"x":20.5,"y":20.5,"z":1595},{"x":21,"y":20.5,"z":1625},{"x":21.5,"y":20.5,"z":1644},{"x":22,"y":20.5,"z":1652},{"x":22.5,"y":20.5,"z":1650},{"x":23,"y":20.5,"z":1636},{"x":23.5,"y":20.5,"z":1613},{"x":24,"y":20.5,"z":1580},{"x":24.5,"y":20.5,"z":1537},{"x":25,"y":20.5,"z":1487},{"x":25.5,"y":20.5,"z":1431},{"x":26,"y":20.5,"z":1368},{"x":26.5,"y":20.5,"z":1301},{"x":27,"y":20.5,"z":1231},{"x":27.5,"y":20.5,"z":1158},{"x":28,"y":20.5,"z":1083},{"x":28.5,"y":20.5,"z":1008},{"x":29,"y":20.5,"z":934},{"x":29.5,"y":20.5,"z":861},
{"x":16,"y":21,"z":946},{"x":16.5,"y":21,"z":1020},{"x":17,"y":21,"z":1093},{"x":17.5,"y":21,"z":1164},{"x":18,"y":21,"z":1233},{"x":18.5,"y":21,"z":1297},{"x":19,"y":21,"z":1356},{"x":19.5,"y":21,"z":1408},{"x":20,"y":21,"z":1452},{"x":20.5,"y":21,"z":1487},{"x":21,"y":21,"z":1513},{"x":21.5,"y":21,"z":1529},{"x":22,"y":21,"z":1536},{"x":22.5,"y":21,"z":1532},{"x":23,"y":21,"z":1518},{"x":23.5,"y":21,"z":1495},{"x":24,"y":21,"z":1463},{"x":24.5,"y":21,"z":1424},{"x":25,"y":21,"z":1377},{"x":25.5,"y":21,"z":1324},{"x":26,"y":21,"z":1266},{"x":26.5,"y":21,"z":1203},{"x":27,"y":21,"z":1138},{"x":27.5,"y":21,"z":1070},{"x":28,"y":21,"z":1001},{"x":28.5,"y":21,"z":932},{"x":29,"y":21,"z":863},{"x":29.5,"y":21,"z":795},
{"x":16,"y":21.5,"z":846},{"x":16.5,"y":21.5,"z":910},{"x":17,"y":21.5,"z":975},{"x":17.5,"y":21.5,"z":1038},{"x":18,"y":21.5,"z":1098},{"x":18.5,"y":21.5,"z":1155},{"x":19,"y":21.5,"z":1207},{"x":19.5,"y":21.5,"z":1253},{"x":20,"y":21.5,"z":1291},{"x":20.5,"y":21.5,"z":1322},{"x":21,"y":21.5,"z":1345},{"x":21.5,"y":21.5,"z":1359},{"x":22,"y":21.5,"z":1364},{"x":22.5,"y":21.5,"z":1361},{"x":23,"y":21.5,"z":1348},{"x":23.5,"y":21.5,"z":1327},{"x":24,"y":21.5,"z":1299},{"x":24.5,"y":21.5,"z":1264},{"x":25,"y":21.5,"z":1222},{"x":25.5,"y":21.5,"z":1175},{"x":26,"y":21.5,"z":1123},{"x":26.5,"y":21.5,"z":1067},{"x":27,"y":21.5,"z":1009},{"x":27.5,"y":21.5,"z":949},{"x":28,"y":21.5,"z":888},{"x":28.5,"y":21.5,"z":826},{"x":29,"y":21.5,"z":765},{"x":29.5,"y":21.5,"z":705},
{"x":16,"y":22,"z":710},{"x":16.5,"y":22,"z":765},{"x":17,"y":22,"z":821},{"x":17.5,"y":22,"z":875},{"x":18,"y":22,"z":927},{"x":18.5,"y":22,"z":976},{"x":19,"y":22,"z":1021},{"x":19.5,"y":22,"z":1060},{"x":20,"y":22,"z":1094},{"x":20.5,"y":22,"z":1121},{"x":21,"y":22,"z":1141},{"x":21.5,"y":22,"z":1154},{"x":22,"y":22,"z":1159},{"x":22.5,"y":22,"z":1156},{"x":23,"y":22,"z":1146},{"x":23.5,"y":22,"z":1129},{"x":24,"y":22,"z":1105},{"x":24.5,"y":22,"z":1075},{"x":25,"y":22,"z":1040},{"x":25.5,"y":22,"z":1000},{"x":26,"y":22,"z":956},{"x":26.5,"y":22,"z":909},{"x":27,"y":22,"z":860},{"x":27.5,"y":22,"z":808},{"x":28,"y":22,"z":756},{"x":28.5,"y":22,"z":704},{"x":29,"y":22,"z":652},{"x":29.5,"y":22,"z":601},
{"x":16,"y":22.5,"z":559},{"x":16.5,"y":22.5,"z":605},{"x":17,"y":22.5,"z":651},{"x":17.5,"y":22.5,"z":696},{"x":18,"y":22.5,"z":740},{"x":18.5,"y":22.5,"z":782},{"x":19,"y":22.5,"z":820},{"x":19.5,"y":22.5,"z":853},{"x":20,"y":22.5,"z":882},{"x":20.5,"y":22.5,"z":906},{"x":21,"y":22.5,"z":924},{"x":21.5,"y":22.5,"z":935},{"x":22,"y":22.5,"z":941},{"x":22.5,"y":22.5,"z":940},{"x":23,"y":22.5,"z":932},{"x":23.5,"y":22.5,"z":919},{"x":24,"y":22.5,"z":901},{"x":24.5,"y":22.5,"z":877},{"x":25,"y":22.5,"z":849},{"x":25.5,"y":22.5,"z":816},{"x":26,"y":22.5,"z":781},{"x":26.5,"y":22.5,"z":743},{"x":27,"y":22.5,"z":703},{"x":27.5,"y":22.5,"z":661},{"x":28,"y":22.5,"z":619},{"x":28.5,"y":22.5,"z":576},{"x":29,"y":22.5,"z":534},{"x":29.5,"y":22.5,"z":492}
],
"bar1":[{"a":-1,"b":1}],
"bar2":[{"lo":-1,"hi":-0.5,"v":-750},{"lo":-0.5,"hi":-0.2,"v":-350},{"lo":-0.2,"hi":0,"v":-100},{"lo":0,"hi":0.2,"v":100},{"lo":0.2,"hi":0.5,"v":350},{"lo":0.5,"hi":1,"v":750}],
"tri":[{"x":-1.1,"lo":0.5,"hi":0.5,"s":"L"},{"x":-1,"lo":0,"hi":1,"s":"L"},{"x":1,"lo":0,"hi":1,"s":"R"},{"x":1.1,"lo":0.5,"hi":0.5,"s":"R"}],
"outline":[{"x":-1.1,"y":0.5,"o":0},{"x":-1,"y":1,"o":1},{"x":1,"y":1,"o":2},{"x":1.1,"y":0.5,"o":3},{"x":1,"y":0,"o":4},{"x":-1,"y":0,"o":5},{"x":-1.1,"y":0.5,"o":6}]
},
"hconcat":[
{"vconcat":[
 {"width":282,"height":282,"view":{"stroke":"#000000","strokeWidth":1},
  "layer":[
   {"data":{"name":"grid"},"mark":{"type":"rect","binSpacing":0,"strokeWidth":0.8},
    "encoding":{
     "x":{"field":"x","type":"quantitative","bin":{"step":1,"extent":[0,30]},"scale":{"domain":[0,30],"nice":false,"zero":false},"axis":{"orient":"bottom","values":[5,10,15,20,25],"labels":false,"domain":false,"grid":false,"tickSize":-6,"title":null}},
     "y":{"field":"y","type":"quantitative","bin":{"step":1,"extent":[0,30]},"scale":{"domain":[0,30],"nice":false,"zero":false},"axis":{"orient":"left","values":[5,10,15,20,25],"labels":false,"domain":false,"grid":false,"tickSize":-6,"title":null}},
     "color":{"condition":[{"test":"datum.z > 1200","value":"#0000ff"},{"test":"datum.z > 1000","value":"#ff0000"},{"test":"datum.z < -1000","value":"#008000"}],"field":"z","type":"quantitative","scale":{"domain":[-1000,1000],"range":["#000000","#ffffff"],"interpolate":"rgb","clamp":true},"legend":null},
     "stroke":{"condition":[{"test":"datum.z > 1200","value":"#0000ff"},{"test":"datum.z > 1000","value":"#ff0000"},{"test":"datum.z < -1000","value":"#008000"}],"field":"z","type":"quantitative","scale":{"domain":[-1000,1000],"range":["#000000","#ffffff"],"interpolate":"rgb","clamp":true},"legend":null}}},
   {"data":{"name":"fine"},"mark":{"type":"rect","binSpacing":0,"strokeWidth":0.8},
    "encoding":{
     "x":{"field":"x","type":"quantitative","bin":{"step":0.5,"extent":[0,30]},"axis":null},
     "y":{"field":"y","type":"quantitative","bin":{"step":0.5,"extent":[0,30]},"axis":null},
     "color":{"condition":[{"test":"datum.z > 1200","value":"#0000ff"},{"test":"datum.z > 1000","value":"#ff0000"},{"test":"datum.z < -1000","value":"#008000"}],"field":"z","type":"quantitative","scale":{"domain":[-1000,1000],"range":["#000000","#ffffff"],"interpolate":"rgb","clamp":true},"legend":null},
     "stroke":{"condition":[{"test":"datum.z > 1200","value":"#0000ff"},{"test":"datum.z > 1000","value":"#ff0000"},{"test":"datum.z < -1000","value":"#008000"}],"field":"z","type":"quantitative","scale":{"domain":[-1000,1000],"range":["#000000","#ffffff"],"interpolate":"rgb","clamp":true},"legend":null}}},
   {"data":{"name":"grid"},"transform":[{"filter":"datum.x == 0 && datum.y == 0"}],"mark":{"type":"rect","opacity":0},
    "encoding":{
     "x":{"field":"x","type":"quantitative","bin":{"step":1,"extent":[0,30]},"axis":{"orient":"top","values":[5,10,15,20,25],"labels":false,"domain":false,"grid":false,"tickSize":-6,"title":null}},
     "y":{"field":"y","type":"quantitative","bin":{"step":1,"extent":[0,30]},"axis":{"orient":"right","values":[5,10,15,20,25],"labels":false,"domain":false,"grid":false,"tickSize":-6,"title":null}}}}
  ],
  "resolve":{"axis":{"x":"independent","y":"independent"}}},
 {"width":282,"height":26,
  "layer":[
   {"data":{"name":"bar1"},"mark":{"type":"rect","color":{"gradient":"linear","x1":0,"y1":0,"x2":1,"y2":0,"stops":[{"offset":0,"color":"#000000"},{"offset":1,"color":"#ffffff"}]}},
    "encoding":{"x":{"field":"a","type":"quantitative","scale":{"domain":[-1.1,1.1],"nice":false,"zero":false},"axis":{"values":[-1,-0.75,-0.5,-0.25,0,0.25,0.5,0.75,1],"labels":false,"domain":false,"grid":false,"tickSize":-5.5,"title":null}},"x2":{"field":"b"}}},
   {"data":{"name":"tri"},"transform":[{"filter":"datum.s == 'L'"}],"mark":{"type":"area","color":"#008000"},
    "encoding":{"x":{"field":"x","type":"quantitative"},"y":{"field":"lo","type":"quantitative","scale":{"domain":[0,1],"nice":false},"axis":null},"y2":{"field":"hi"}}},
   {"data":{"name":"tri"},"transform":[{"filter":"datum.s == 'R'"}],"mark":{"type":"area","color":"#ff0000"},
    "encoding":{"x":{"field":"x","type":"quantitative"},"y":{"field":"lo","type":"quantitative","axis":null},"y2":{"field":"hi"}}},
   {"data":{"name":"outline"},"mark":{"type":"line","color":"#000000","strokeWidth":1},
    "encoding":{"x":{"field":"x","type":"quantitative"},"y":{"field":"y","type":"quantitative","axis":null},"order":{"field":"o","type":"quantitative"}}}
  ]}
 ],"spacing":72,"bounds":"flush","resolve":{"scale":{"color":"independent","stroke":"independent"}}},
{"vconcat":[
 {"width":282,"height":282,"view":{"stroke":"#000000","strokeWidth":1},
  "layer":[
   {"data":{"name":"grid"},"mark":{"type":"rect","binSpacing":0,"strokeWidth":0.8},
    "encoding":{
     "x":{"field":"x","type":"quantitative","bin":{"step":1,"extent":[0,30]},"scale":{"domain":[0,30],"nice":false,"zero":false},"axis":{"orient":"bottom","values":[5,10,15,20,25],"labels":false,"domain":false,"grid":false,"tickSize":-6,"title":null}},
     "y":{"field":"y","type":"quantitative","bin":{"step":1,"extent":[0,30]},"scale":{"domain":[0,30],"nice":false,"zero":false},"axis":{"orient":"left","values":[5,10,15,20,25],"labels":false,"domain":false,"grid":false,"tickSize":-6,"title":null}},
     "color":{"field":"z","type":"quantitative","scale":{"type":"threshold","domain":[-1000,-500,-200,0,200,500,1000,1200],"range":["#008000","#000000","#333333","#666666","#999999","#cccccc","#ffffff","#ff0000","#0000ff"]},"legend":null},
     "stroke":{"field":"z","type":"quantitative","scale":{"type":"threshold","domain":[-1000,-500,-200,0,200,500,1000,1200],"range":["#008000","#000000","#333333","#666666","#999999","#cccccc","#ffffff","#ff0000","#0000ff"]},"legend":null}}},
   {"data":{"name":"fine"},"mark":{"type":"rect","binSpacing":0,"strokeWidth":0.8},
    "encoding":{
     "x":{"field":"x","type":"quantitative","bin":{"step":0.5,"extent":[0,30]},"axis":null},
     "y":{"field":"y","type":"quantitative","bin":{"step":0.5,"extent":[0,30]},"axis":null},
     "color":{"field":"z","type":"quantitative","scale":{"type":"threshold","domain":[-1000,-500,-200,0,200,500,1000,1200],"range":["#008000","#000000","#333333","#666666","#999999","#cccccc","#ffffff","#ff0000","#0000ff"]},"legend":null},
     "stroke":{"field":"z","type":"quantitative","scale":{"type":"threshold","domain":[-1000,-500,-200,0,200,500,1000,1200],"range":["#008000","#000000","#333333","#666666","#999999","#cccccc","#ffffff","#ff0000","#0000ff"]},"legend":null}}},
   {"data":{"name":"grid"},"transform":[{"filter":"datum.x == 0 && datum.y == 0"}],"mark":{"type":"rect","opacity":0},
    "encoding":{
     "x":{"field":"x","type":"quantitative","bin":{"step":1,"extent":[0,30]},"axis":{"orient":"top","values":[5,10,15,20,25],"labels":false,"domain":false,"grid":false,"tickSize":-6,"title":null}},
     "y":{"field":"y","type":"quantitative","bin":{"step":1,"extent":[0,30]},"axis":{"orient":"right","values":[5,10,15,20,25],"labels":false,"domain":false,"grid":false,"tickSize":-6,"title":null}}}}
  ],
  "resolve":{"axis":{"x":"independent","y":"independent"}}},
 {"width":282,"height":26,
  "layer":[
   {"data":{"name":"bar2"},"mark":{"type":"rect"},
    "encoding":{"x":{"field":"lo","type":"quantitative","scale":{"domain":[-1.1,1.1],"nice":false,"zero":false},"axis":{"values":[-1,-0.5,-0.2,0,0.2,0.5,1],"labels":false,"domain":false,"grid":false,"tickSize":-5.5,"title":null}},"x2":{"field":"hi"},
     "color":{"field":"v","type":"quantitative","scale":{"type":"threshold","domain":[-500,-200,0,200,500],"range":["#000000","#333333","#666666","#999999","#cccccc","#ffffff"]},"legend":null}}},
   {"data":{"name":"tri"},"transform":[{"filter":"datum.s == 'L'"}],"mark":{"type":"area","color":"#008000"},
    "encoding":{"x":{"field":"x","type":"quantitative"},"y":{"field":"lo","type":"quantitative","scale":{"domain":[0,1],"nice":false},"axis":null},"y2":{"field":"hi"}}},
   {"data":{"name":"tri"},"transform":[{"filter":"datum.s == 'R'"}],"mark":{"type":"area","color":"#ff0000"},
    "encoding":{"x":{"field":"x","type":"quantitative"},"y":{"field":"lo","type":"quantitative","axis":null},"y2":{"field":"hi"}}},
   {"data":{"name":"outline"},"mark":{"type":"line","color":"#000000","strokeWidth":1},
    "encoding":{"x":{"field":"x","type":"quantitative"},"y":{"field":"y","type":"quantitative","axis":null},"order":{"field":"o","type":"quantitative"}}}
  ]}
 ],"spacing":72,"bounds":"flush","resolve":{"scale":{"color":"independent","stroke":"independent"}}}
]}
